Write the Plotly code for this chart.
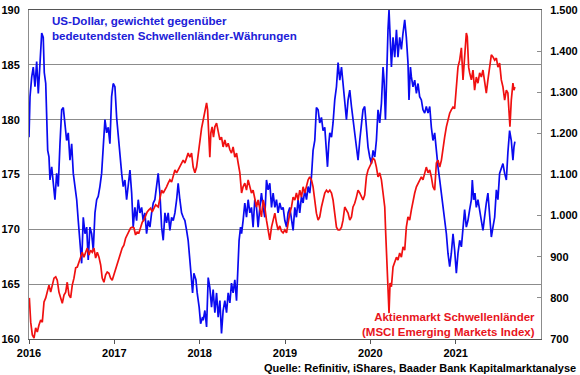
import pandas as pd
import plotly.graph_objects as go

# ---------------- data ----------------
usd_years = [
    2016.000, 2016.012, 2016.032, 2016.050, 2016.070, 2016.090, 2016.109, 2016.129, 2016.149, 2016.167,
    2016.179, 2016.196, 2016.207, 2016.219, 2016.234, 2016.246, 2016.266, 2016.285, 2016.304, 2016.324,
    2016.343, 2016.363, 2016.383, 2016.402, 2016.422, 2016.441, 2016.460, 2016.480, 2016.500, 2016.519,
    2016.539, 2016.559, 2016.577, 2016.597, 2016.617, 2016.636, 2016.656, 2016.676, 2016.694, 2016.714,
    2016.734, 2016.753, 2016.773, 2016.793, 2016.811, 2016.831, 2016.851, 2016.870, 2016.890, 2016.910,
    2016.929, 2016.948, 2016.968, 2016.987, 2017.007, 2017.027, 2017.046, 2017.066, 2017.086, 2017.104,
    2017.124, 2017.144, 2017.163, 2017.183, 2017.203, 2017.221, 2017.241, 2017.261, 2017.280, 2017.300,
    2017.320, 2017.338, 2017.358, 2017.378, 2017.397, 2017.417, 2017.437, 2017.456, 2017.475, 2017.495,
    2017.514, 2017.534, 2017.554, 2017.573, 2017.593, 2017.612, 2017.631, 2017.651, 2017.671, 2017.690,
    2017.710, 2017.730, 2017.748, 2017.768, 2017.788, 2017.807, 2017.827, 2017.847, 2017.865, 2017.885,
    2017.905, 2017.917, 2017.932, 2017.956, 2017.971, 2017.994, 2018.011, 2018.034, 2018.041, 2018.061,
    2018.081, 2018.100, 2018.119, 2018.139, 2018.158, 2018.178, 2018.198, 2018.217, 2018.237, 2018.256,
    2018.275, 2018.295, 2018.315, 2018.334, 2018.354, 2018.373, 2018.392, 2018.412, 2018.432, 2018.451,
    2018.462, 2018.479, 2018.491, 2018.509, 2018.529, 2018.549, 2018.568, 2018.588, 2018.607, 2018.626,
    2018.646, 2018.666, 2018.685, 2018.705, 2018.724, 2018.744, 2018.763, 2018.783, 2018.802, 2018.822,
    2018.842, 2018.861, 2018.881, 2018.900, 2018.919, 2018.939, 2018.959, 2018.978, 2018.998, 2019.018,
    2019.036, 2019.056, 2019.076, 2019.095, 2019.115, 2019.134, 2019.153, 2019.173, 2019.193, 2019.212,
    2019.232, 2019.252, 2019.271, 2019.290, 2019.310, 2019.329, 2019.349, 2019.368, 2019.388, 2019.407,
    2019.427, 2019.446, 2019.466, 2019.486, 2019.498, 2019.513, 2019.525, 2019.545, 2019.563, 2019.583,
    2019.603, 2019.622, 2019.642, 2019.662, 2019.680, 2019.700, 2019.720, 2019.739, 2019.759, 2019.779,
    2019.797, 2019.817, 2019.837, 2019.856, 2019.876, 2019.896, 2019.914, 2019.934, 2019.954, 2019.973,
    2019.993, 2020.013, 2020.032, 2020.052, 2020.071, 2020.090, 2020.110, 2020.130, 2020.149, 2020.161,
    2020.177, 2020.192, 2020.207, 2020.219, 2020.231, 2020.247, 2020.266, 2020.286, 2020.306, 2020.324,
    2020.344, 2020.364, 2020.383, 2020.403, 2020.422, 2020.441, 2020.453, 2020.470, 2020.481, 2020.500,
    2020.520, 2020.540, 2020.559, 2020.578, 2020.598, 2020.617, 2020.637, 2020.656, 2020.676, 2020.696,
    2020.715, 2020.734, 2020.754, 2020.774, 2020.793, 2020.813, 2020.833, 2020.851, 2020.871, 2020.891,
    2020.910, 2020.930, 2020.949, 2020.969, 2020.988, 2021.008, 2021.027, 2021.047, 2021.067, 2021.086,
    2021.105, 2021.125, 2021.144, 2021.164, 2021.184, 2021.195, 2021.211, 2021.226, 2021.242, 2021.261,
    2021.281, 2021.301, 2021.320, 2021.340, 2021.359, 2021.378, 2021.398, 2021.418, 2021.437, 2021.457,
    2021.477, 2021.495, 2021.515, 2021.535, 2021.554, 2021.574, 2021.594, 2021.612, 2021.632, 2021.652,
    2021.671, 2021.683, 2021.694,
]
usd_values = [
    178.4, 182.1, 183.9, 184.8, 183.0, 185.3, 182.4, 185.2, 187.9, 187.5,
    184.3, 183.3, 181.2, 177.2, 176.6, 174.5, 175.7, 174.2, 172.7, 175.1,
    173.9, 177.8, 180.9, 181.1, 179.3, 178.1, 178.8, 176.3, 177.8, 175.1,
    173.9, 172.7, 170.8, 168.4, 166.9, 171.1, 169.6, 170.2, 167.2, 170.2,
    169.6, 168.1, 171.5, 172.7, 173.0, 173.9, 175.1, 177.5, 180.0, 178.8,
    179.3, 177.8, 182.1, 183.3, 183.0, 180.2, 178.4, 176.6, 175.1, 173.9,
    174.5, 172.7, 173.9, 175.4, 173.3, 170.2, 172.0, 170.8, 172.7, 171.5,
    172.0, 170.8, 171.5, 169.6, 170.8, 170.2, 171.5, 172.4, 172.7, 173.9,
    175.1, 173.3, 170.2, 169.0, 171.5, 170.6, 171.5, 169.9, 171.1, 170.8,
    171.5, 172.7, 174.2, 172.7, 171.5, 171.1, 170.8, 169.9, 169.0, 167.2,
    165.4, 164.2, 166.0, 165.4, 164.2, 162.9, 161.4, 162.0, 161.7, 162.6,
    161.1, 165.6, 164.7, 162.9, 164.5, 162.4, 164.2, 162.0, 163.5, 160.5,
    162.6, 163.5, 162.4, 164.2, 163.3, 165.1, 164.2, 165.4, 163.5, 166.6,
    169.0, 170.2, 169.6, 170.8, 172.4, 171.1, 172.7, 171.5, 172.0, 170.2,
    172.7, 172.0, 170.2, 172.0, 173.3, 172.0, 171.1, 174.5, 173.6, 174.2,
    172.0, 173.3, 172.0, 172.7, 171.5, 172.4, 171.8, 172.0, 170.8, 170.2,
    171.5, 172.0, 170.8, 169.9, 172.0, 171.1, 172.7, 171.5, 173.0, 172.4,
    173.6, 172.7, 173.9, 173.3, 174.8, 177.2, 178.1, 181.1, 180.9, 179.7,
    180.2, 179.0, 179.3, 176.6, 175.7, 177.8, 178.8, 178.4, 179.7, 181.8,
    183.0, 185.2, 183.6, 184.8, 183.3, 181.2, 180.0, 181.8, 182.7, 181.2,
    180.0, 178.8, 177.0, 176.3, 178.1, 179.7, 180.9, 181.2, 178.8, 177.5,
    176.6, 176.0, 177.2, 176.6, 178.1, 180.9, 179.7, 181.5, 184.8, 183.6,
    180.0, 184.8, 188.2, 190.0, 187.3, 184.8, 187.5, 185.7, 188.2, 185.7,
    187.5, 186.4, 187.9, 189.1, 187.5, 185.2, 181.8, 184.8, 183.9, 183.0,
    183.6, 182.4, 183.3, 182.1, 181.8, 180.9, 180.6, 181.2, 180.6, 181.2,
    179.3, 178.1, 178.8, 177.0, 175.7, 174.5, 173.3, 172.0, 170.8, 169.6,
    167.8, 166.6, 167.8, 169.6, 168.1, 166.0, 167.8, 169.0, 168.4, 170.2,
    171.8, 170.2, 170.8, 171.8, 172.7, 174.5, 172.7, 173.3, 172.0, 172.7,
    171.5, 170.8, 169.9, 171.5, 172.4, 173.3, 171.5, 169.3, 170.2, 171.1,
    173.6, 172.7, 175.1, 175.7, 176.0, 175.1, 174.5, 177.0, 179.0, 178.1,
    176.3, 177.5, 178.0,
]

msci_years = [
    2016.004, 2016.020, 2016.039, 2016.059, 2016.078, 2016.097, 2016.117, 2016.137, 2016.156, 2016.176,
    2016.196, 2016.214, 2016.234, 2016.254, 2016.273, 2016.293, 2016.313, 2016.331, 2016.351, 2016.371,
    2016.390, 2016.410, 2016.430, 2016.448, 2016.468, 2016.488, 2016.507, 2016.527, 2016.547, 2016.566,
    2016.585, 2016.605, 2016.624, 2016.644, 2016.664, 2016.683, 2016.703, 2016.722, 2016.741, 2016.761,
    2016.781, 2016.800, 2016.820, 2016.840, 2016.858, 2016.878, 2016.898, 2016.917, 2016.937, 2016.956,
    2016.975, 2016.995, 2017.015, 2017.034, 2017.054, 2017.074, 2017.092, 2017.112, 2017.132, 2017.151,
    2017.171, 2017.191, 2017.210, 2017.230, 2017.249, 2017.268, 2017.288, 2017.308, 2017.327, 2017.347,
    2017.367, 2017.385, 2017.405, 2017.425, 2017.444, 2017.464, 2017.484, 2017.514, 2017.534, 2017.554,
    2017.573, 2017.593, 2017.612, 2017.631, 2017.651, 2017.671, 2017.690, 2017.710, 2017.730, 2017.748,
    2017.768, 2017.788, 2017.807, 2017.827, 2017.847, 2017.865, 2017.885, 2017.905, 2017.924, 2017.944,
    2017.964, 2017.983, 2018.002, 2018.022, 2018.041, 2018.061, 2018.081, 2018.093, 2018.108, 2018.119,
    2018.131, 2018.146, 2018.162, 2018.178, 2018.198, 2018.217, 2018.237, 2018.256, 2018.275, 2018.295,
    2018.315, 2018.334, 2018.354, 2018.373, 2018.392, 2018.412, 2018.432, 2018.451, 2018.471, 2018.491,
    2018.509, 2018.529, 2018.549, 2018.568, 2018.588, 2018.607, 2018.626, 2018.646, 2018.666, 2018.685,
    2018.705, 2018.724, 2018.744, 2018.763, 2018.783, 2018.802, 2018.822, 2018.842, 2018.861, 2018.881,
    2018.900, 2018.919, 2018.939, 2018.959, 2018.978, 2018.998, 2019.018, 2019.036, 2019.056, 2019.076,
    2019.095, 2019.115, 2019.134, 2019.153, 2019.173, 2019.193, 2019.212, 2019.232, 2019.252, 2019.271,
    2019.290, 2019.310, 2019.329, 2019.349, 2019.368, 2019.388, 2019.407, 2019.427, 2019.446, 2019.466,
    2019.486, 2019.505, 2019.525, 2019.545, 2019.563, 2019.583, 2019.603, 2019.622, 2019.642, 2019.662,
    2019.680, 2019.700, 2019.720, 2019.739, 2019.759, 2019.779, 2019.797, 2019.817, 2019.837, 2019.856,
    2019.876, 2019.896, 2019.914, 2019.934, 2019.954, 2019.973, 2019.993, 2020.013, 2020.032, 2020.052,
    2020.071, 2020.090, 2020.110, 2020.130, 2020.149, 2020.169, 2020.180, 2020.192, 2020.207, 2020.219,
    2020.231, 2020.247, 2020.266, 2020.286, 2020.306, 2020.324, 2020.344, 2020.364, 2020.383, 2020.403,
    2020.422, 2020.441, 2020.461, 2020.481, 2020.500, 2020.520, 2020.540, 2020.559, 2020.578, 2020.598,
    2020.617, 2020.637, 2020.656, 2020.676, 2020.696, 2020.715, 2020.734, 2020.754, 2020.774, 2020.793,
    2020.813, 2020.833, 2020.851, 2020.871, 2020.891, 2020.910, 2020.930, 2020.949, 2020.969, 2020.988,
    2021.008, 2021.027, 2021.047, 2021.067, 2021.086, 2021.105, 2021.125, 2021.136, 2021.152, 2021.164,
    2021.184, 2021.203, 2021.222, 2021.242, 2021.261, 2021.281, 2021.301, 2021.320, 2021.340, 2021.359,
    2021.378, 2021.398, 2021.418, 2021.437, 2021.457, 2021.477, 2021.495, 2021.515, 2021.535, 2021.554,
    2021.574, 2021.594, 2021.612, 2021.624, 2021.636, 2021.652, 2021.671, 2021.683, 2021.694,
]
msci_values = [
    800, 741, 710, 702, 727, 717, 734, 746, 741, 790,
    800, 814, 831, 814, 831, 848, 851, 843, 814, 800,
    787, 807, 814, 838, 807, 800, 831, 848, 873, 875,
    885, 899, 911, 899, 911, 921, 904, 916, 911, 921,
    897, 911, 899, 880, 848, 838, 856, 863, 860, 848,
    843, 856, 873, 885, 897, 911, 921, 928, 945, 953,
    960, 970, 972, 970, 953, 960, 958, 972, 984, 989,
    1001, 1009, 1014, 1018, 1009, 1018, 1026, 1021, 1045, 1062,
    1055, 1062, 1070, 1079, 1087, 1082, 1094, 1111, 1104, 1111,
    1118, 1128, 1135, 1128, 1142, 1152, 1142, 1152, 1118, 1104,
    1118, 1152, 1184, 1212, 1232, 1253, 1274, 1257, 1184, 1142,
    1201, 1216, 1191, 1216, 1225, 1201, 1184, 1191, 1167, 1184,
    1167, 1176, 1160, 1152, 1167, 1142, 1152, 1128, 1104, 1055,
    1070, 1079, 1062, 1087, 1070, 1055, 1062, 1038, 1021, 1038,
    1014, 997, 1038, 1021, 989, 965, 941, 972, 989, 1006,
    982, 965, 975, 962, 958, 965, 958, 982, 1006, 1021,
    1045, 1038, 1055, 1038, 1062, 1045, 1070, 1055, 1070, 1087,
    1094, 1087, 1070, 1038, 1006, 989, 997, 1021, 1038, 1055,
    1062, 1057, 1062, 1055, 1038, 1006, 972, 965, 965, 972,
    989, 1021, 1014, 1006, 989, 997, 1021, 1030, 1045, 1062,
    1055, 1045, 1038, 1050, 1095, 1111, 1118, 1128, 1140, 1135,
    1118, 1094, 1104, 1087, 1055, 1021, 958, 892, 819, 763,
    836, 827, 875, 885, 899, 892, 909, 899, 924, 916,
    972, 997, 989, 1014, 1038, 1055, 1070, 1079, 1087, 1094,
    1087, 1104, 1118, 1104, 1111, 1094, 1070, 1062, 1128, 1135,
    1118, 1135, 1167, 1191, 1216, 1232, 1249, 1257, 1264, 1260,
    1313, 1361, 1378, 1408, 1330, 1395, 1444, 1435, 1361, 1347,
    1330, 1354, 1305, 1337, 1322, 1347, 1337, 1354, 1330, 1298,
    1330, 1361, 1391, 1386, 1378, 1383, 1361, 1371, 1330, 1313,
    1281, 1305, 1298, 1257, 1216, 1281, 1322, 1305, 1313,
]

year_ticks = [2016, 2017, 2018, 2019, 2020, 2021]
left_ticks = [160, 165, 170, 175, 180, 185, 190]
right_ticks = [700, 800, 900, 1000, 1100, 1200, 1300, 1400, 1500]
right_tick_text = ["700", "800", "900", "1.000", "1.100", "1.200", "1.300", "1.400", "1.500"]

usd_label = "US-Dollar, gewichtet gegenüber<br>bedeutendsten Schwellenländer-Währungen"
msci_label = "Aktienmarkt Schwellenländer<br>(MSCI Emerging Markets Index)"
source_label = "Quelle: Refinitiv, iShares, Baader Bank Kapitalmarktanalyse"


def to_date(y):
    return pd.Timestamp("2016-01-01") + pd.Timedelta(days=(y - 2016) * 365.25)


usd_dates = [to_date(y) for y in usd_years]
msci_dates = [to_date(y) for y in msci_years]

FONT = "Arial, 'Liberation Sans', sans-serif"
BLUE = "#0a0af0"
RED = "#f01010"
GRID = "#8c8c8c"

fig = go.Figure()
fig.add_trace(go.Scatter(x=usd_dates, y=usd_values, mode="lines",
                         line=dict(color=BLUE, width=1.7), yaxis="y", showlegend=False))
fig.add_trace(go.Scatter(x=msci_dates, y=msci_values, mode="lines",
                         line=dict(color=RED, width=1.7), yaxis="y2", showlegend=False))

tickfont = dict(family=FONT, size=11, color="#000000", weight="bold")

fig.update_layout(
    width=580, height=375,
    margin=dict(l=29, r=39, t=10, b=36, autoexpand=False),
    paper_bgcolor="white", plot_bgcolor="white",
    xaxis=dict(
        type="date", automargin=False,
        range=[to_date(2016), to_date(2022)],
        tickvals=[to_date(y) for y in year_ticks],
        ticktext=[str(y) for y in year_ticks],
        ticks="outside", ticklen=4, tickcolor="#555555",
        showline=True, linecolor="#555555", linewidth=1, mirror=True,
        showgrid=False, zeroline=False,
        tickfont=tickfont,
    ),
    yaxis=dict(
        range=[160, 190], tickvals=left_ticks, automargin=False,
        showgrid=True, gridcolor=GRID, gridwidth=1,
        showline=True, linecolor=GRID, linewidth=1,
        ticks="", zeroline=False,
        tickfont=tickfont, ticklabelstandoff=6,
    ),
    yaxis2=dict(
        range=[700, 1500], tickvals=right_ticks, ticktext=right_tick_text,
        overlaying="y", side="right", automargin=False,
        showgrid=False, showline=True, linecolor=GRID, linewidth=1,
        ticks="inside", ticklen=4, tickcolor=GRID, zeroline=False,
        tickfont=tickfont, ticklabelstandoff=6,
    ),
    annotations=[
        dict(text=usd_label, xref="paper", yref="paper", x=0.041, y=1.0,
             xanchor="left", yanchor="top", showarrow=False, align="left",
             yshift=-2,
             font=dict(family=FONT, size=11.6, color="#2020d8", weight="bold")),
        dict(text=msci_label, xref="paper", yref="paper", x=0.993, y=0.0,
             xanchor="right", yanchor="bottom", showarrow=False, align="right",
             yshift=-1,
             font=dict(family=FONT, size=11.5, color="#e8141c", weight="bold")),
        dict(text=source_label, xref="paper", yref="paper", x=1.0, y=-0.065,
             xanchor="right", yanchor="top", showarrow=False, align="right",
             xshift=37,
             font=dict(family=FONT, size=11, color="#000000", weight="bold")),
    ],
)

fig.write_html("out.html", config={"displayModeBar": False},
               post_script="document.body.style.margin='0';document.body.style.overflow='hidden';")
